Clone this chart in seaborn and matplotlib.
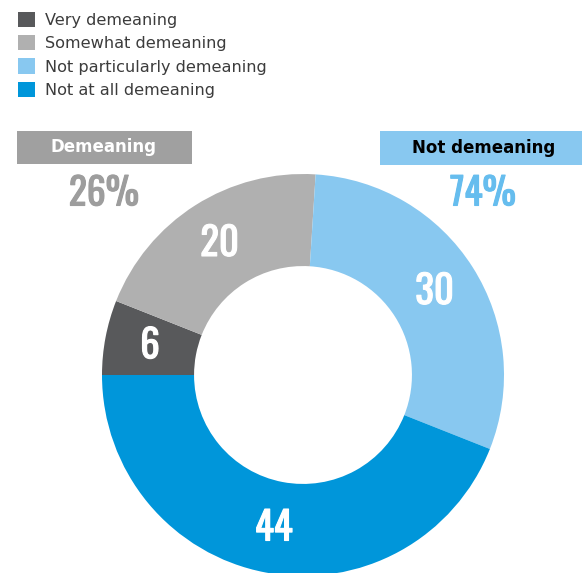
#!/usr/bin/env python3
"""Donut chart: how demeaning respondents find the practice (percent)."""

import matplotlib
matplotlib.use("Agg")
import matplotlib.pyplot as plt
import matplotlib.patheffects as pe
from matplotlib import font_manager
from matplotlib.patches import Rectangle
import seaborn as sns

categories = [
    "Very demeaning",
    "Somewhat demeaning",
    "Not particularly demeaning",
    "Not at all demeaning",
]
shares = [6, 20, 30, 44]
groups = ["Demeaning", "Not demeaning"]
group_totals = [26, 74]

wedge_colors = ["#58595b", "#b0b0b0", "#88c8f0", "#0096da"]
group_box_colors = ["#a0a0a0", "#88c8f0"]
group_text_colors = ["white", "black"]
group_pct_colors = ["#9d9d9d", "#66bdee"]

W, H = 582, 573

sns.set_theme(style="white")
plt.rcParams["font.family"] = ["DejaVu Sans"]

# pick a narrow face for the big numbers if one is installed
fonts = font_manager.fontManager.ttflist
names = {f.name for f in fonts}
num_font = dict(family="DejaVu Sans", fontweight="bold")
for cand in ["Oswald", "Roboto Condensed", "Open Sans Condensed", "Liberation Sans Narrow",
             "Noto Sans Condensed", "DejaVu Sans Condensed"]:
    if cand in names:
        num_font = dict(family=cand, fontweight="bold")
        break
else:
    narrow = [f for f in fonts
              if any(k in str(f.stretch).lower() for k in ("condensed", "narrow"))]
    if narrow:
        num_font = dict(family=narrow[0].name, fontweight="bold", fontstretch=narrow[0].stretch)


def fx(x):
    return x / W


def fy(y):
    return 1 - y / H


def thicken(color, lw=0.8):
    return [pe.withStroke(linewidth=lw, foreground=color)]


fig = plt.figure(figsize=(W / 100, H / 100), dpi=100)
fig.patch.set_facecolor("white")

# donut: centre (303, 375) px, outer radius 201 px, inner 109 px
cx, cy, r = 303, 375, 201
ax = fig.add_axes([fx(cx - r), fy(cy + r), 2 * r / W, 2 * r / H])
wedges, _, autotexts = ax.pie(
    shares,
    colors=wedge_colors,
    startangle=180,
    counterclock=False,
    radius=1,
    autopct=lambda p: f"{p:.0f}",
    pctdistance=0.775,
    wedgeprops=dict(width=0.458, linewidth=0),
)
for t in autotexts:
    t.set_color("white")
    t.set_fontsize(28)
    t.set(**num_font)
    t.set_path_effects(thicken("white"))
ax.set_xlim(-1, 1)
ax.set_ylim(-1, 1)
ax.set_aspect("equal")
ax.axis("off")

# legend
fig.legend(
    wedges,
    categories,
    loc="upper left",
    bbox_to_anchor=(fx(3), fy(-3)),
    frameon=False,
    prop=dict(family="DejaVu Sans", size=11.6),
    handlelength=1.1,
    handleheight=1.1,
    handletextpad=0.6,
    labelspacing=0.45,
    labelcolor="#3c3c3c",
)

# group header boxes and totals
boxes = [(17, 131, 175, 33), (380, 131, 202, 34)]
pct_x = [104, 483]
for (bx, by, bw, bh), name, total, bc, tc, pc, px in zip(
    boxes, groups, group_totals, group_box_colors, group_text_colors, group_pct_colors, pct_x
):
    fig.patches.append(
        Rectangle((fx(bx), fy(by + bh)), bw / W, bh / H, transform=fig.transFigure,
                  facecolor=bc, edgecolor="none")
    )
    fig.text(fx(bx + bw / 2 - (1 if name == "Demeaning" else -3)), fy(by + bh / 2), name,
             ha="center", va="center", color=tc, fontsize=12, fontweight="bold")
    fig.text(fx(px), fy(194), f"{total}%", ha="center", va="center", color=pc,
             fontsize=27, path_effects=thicken(pc), **num_font)

fig.savefig("out.png", dpi=100)
